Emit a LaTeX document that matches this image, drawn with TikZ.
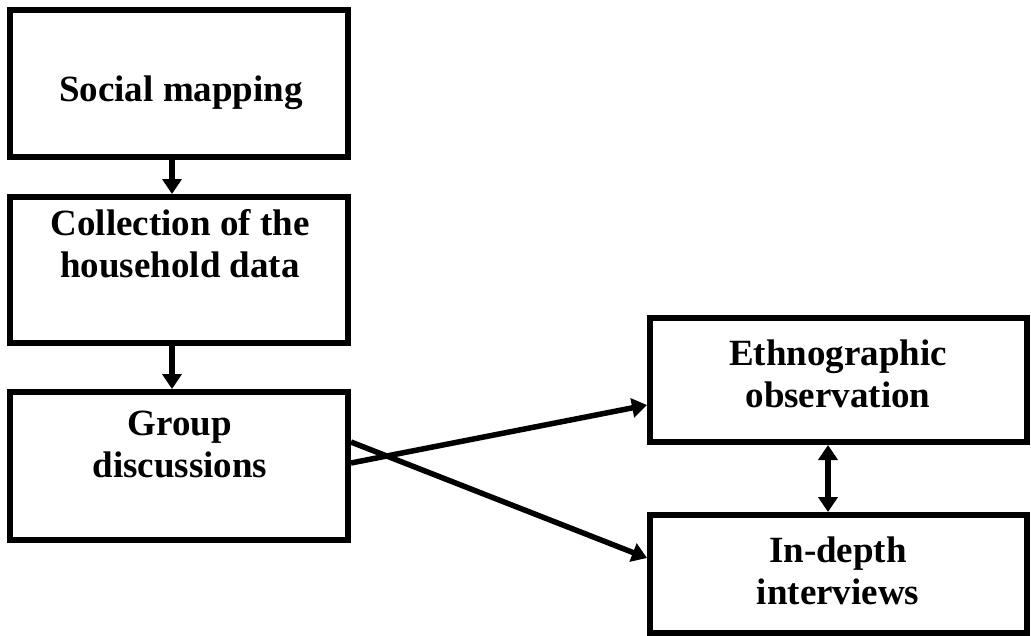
\documentclass[tikz,border=0pt]{standalone}
\usepackage{fontspec}
\setmainfont{Liberation Serif}
\usetikzlibrary{arrows.meta}
\tikzset{
  box/.style={draw, line width=6pt, inner sep=0pt, minimum width=#1},
  box/.default=338pt,
  txt/.style={anchor=base, inner sep=0pt, font=\bfseries\fontsize{37}{42}\selectfont},
  conn/.style={line width=5.5pt, -{Triangle[length=15pt,width=19pt]}},
  dconn/.style={line width=5.5pt, {Triangle[length=15pt,width=19pt]}-{Triangle[length=15pt,width=19pt]}}
}
\newcommand{\lines}[1]{\begin{tabular}[t]{@{}c@{}}#1\end{tabular}}
\begin{document}
\begin{tikzpicture}[x=1pt,y=-1pt]
\useasboundingbox (0,0) rectangle (1031,635);
\node[box, minimum height=147pt] (b1) at (179,83.5) {};
\node[box, minimum height=146pt] (b2) at (179,270) {};
\node[box, minimum height=148pt] (b3) at (179,466) {};
\node[box=377pt, minimum height=124pt] (b4) at (838.5,380) {};
\node[box=377pt, minimum height=118pt] (b5) at (838.5,574) {};
\node[txt] (t1) at (181,101) {Social mapping};
\node[txt] (t2) at (180,235) {\lines{Collection of the\\household data}};
\node[txt] (t3) at (180,435) {\lines{Group\\discussions}};
\node[txt] (t4) at (838,365) {\lines{Ethnographic\\observation}};
\node[txt] (t5) at (838,562) {\lines{In-depth\\interviews}};
\draw[conn] ([xshift=-7pt]b1.south) -- ([xshift=-7pt]b2.north);
\draw[conn] ([xshift=-7pt]b2.south) -- ([xshift=-7pt]b3.north);
\draw[conn] ([yshift=3pt]b3.east) -- ([yshift=-25pt]b4.west);
\draw[conn] ([yshift=24pt]b3.east) -- ([yshift=16pt]b5.west);
\draw[dconn] ([xshift=-10.5pt]b4.south) -- ([xshift=-10.5pt]b5.north);
\end{tikzpicture}
\end{document}
